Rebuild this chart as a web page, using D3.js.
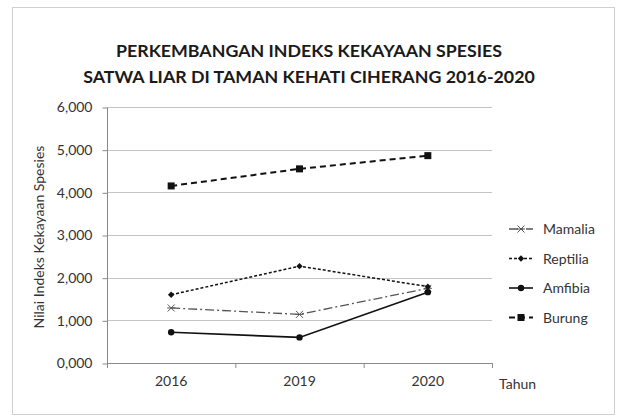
<!DOCTYPE html>
<html>
<head>
<meta charset="utf-8">
<script src="https://cdn.jsdelivr.net/npm/d3@7"></script>
<style>
  body { margin: 0; background: #fff; }
  svg { display: block; font-family: Lato, "Open Sans", sans-serif; }
</style>
</head>
<body>
<script>
// data
var years = ["2016", "2019", "2020"];
var mamalia = [1.29, 1.14, 1.75];
var reptilia = [1.60, 2.27, 1.79];
var amfibia = [0.72, 0.60, 1.66];
var burung = [4.15, 4.55, 4.86];
var yTicks = [0, 1, 2, 3, 4, 5, 6];
var yTickLabels = ["0,000", "1,000", "2,000", "3,000", "4,000", "5,000", "6,000"];
var titleLines = ["PERKEMBANGAN INDEKS KEKAYAAN SPESIES", "SATWA LIAR DI TAMAN KEHATI CIHERANG 2016-2020"];

var series = [
  {name: "Mamalia", values: mamalia, dash: "9,3,2,3", width: 1.3, color: "#555", marker: "star"},
  {name: "Reptilia", values: reptilia, dash: "3,2", width: 1.5, color: "#111", marker: "diamond"},
  {name: "Amfibia", values: amfibia, dash: null, width: 1.6, color: "#111", marker: "circle"},
  {name: "Burung", values: burung, dash: "6,4", width: 2, color: "#111", marker: "square"}
];

var W = 620, H = 417;
var m = {left: 107, right: 492, top: 107, bottom: 363};

var svg = d3.select("body").append("svg").attr("width", W).attr("height", H);

// chart frame
svg.append("rect").attr("x", 12.5).attr("y", 7.5).attr("width", 602).attr("height", 407)
   .attr("fill", "#fff").attr("stroke", "#d0d0d0").attr("stroke-width", 1);

var x = d3.scaleBand().domain(years).range([m.left, m.right]);
var y = d3.scaleLinear().domain([0, 6]).range([m.bottom, m.top]);

// title
svg.append("g").selectAll("text").data(titleLines).enter().append("text")
   .attr("x", 309).attr("y", function(d, i) { return 57 + i * 26; })
   .attr("text-anchor", "middle").attr("font-size", 17.8).attr("font-weight", "bold")
   .attr("fill", "#1a1a1a").text(function(d) { return d; });

// grid
svg.append("g").selectAll("line").data(yTicks.slice(1)).enter().append("line")
   .attr("x1", m.left).attr("x2", m.right)
   .attr("y1", function(d) { return Math.round(y(d)) + 0.5; })
   .attr("y2", function(d) { return Math.round(y(d)) + 0.5; })
   .attr("stroke", "#c4c4c4").attr("stroke-width", 1);

// y axis
var yAxis = svg.append("g").attr("transform", "translate(" + (m.left + 0.5) + ",0.5)")
   .call(d3.axisLeft(y).tickValues(yTicks).tickSize(5).tickPadding(10)
   .tickFormat(function(d, i) { return yTickLabels[i]; }));
yAxis.selectAll("text").attr("font-size", 14).attr("font-family", "Lato, sans-serif").attr("fill", "#333");
yAxis.select(".domain").attr("stroke", "#8a8a8a").attr("d", "M0," + (m.top) + "V" + (m.bottom));
yAxis.selectAll(".tick line").attr("stroke", "#8a8a8a");

// x axis
var xAxis = svg.append("g").attr("transform", "translate(0," + (m.bottom + 0.5) + ")")
   .call(d3.axisBottom(x).tickSize(0).tickPadding(13));
xAxis.select(".domain").attr("stroke", "#8a8a8a").attr("d", "M" + m.left + ",0H" + m.right);
xAxis.selectAll("text").attr("font-size", 14).attr("font-family", "Lato, sans-serif").attr("fill", "#333");
svg.append("g").selectAll("line").data(years.concat(["end"])).enter().append("line")
   .attr("x1", function(d, i) { return m.left + i * x.step() + 0.5; })
   .attr("x2", function(d, i) { return m.left + i * x.step() + 0.5; })
   .attr("y1", m.bottom).attr("y2", m.bottom + 5).attr("stroke", "#8a8a8a");

svg.append("text").attr("x", 499).attr("y", 389).attr("font-size", 14).attr("fill", "#333").text("Tahun");

// y title
svg.append("text").attr("transform", "translate(44," + ((m.top + m.bottom) / 2 + 2) + ") rotate(-90)")
   .attr("text-anchor", "middle").attr("font-size", 14).attr("fill", "#333")
   .text("Nilai Indeks Kekayaan Spesies");

function drawMarker(g, type, color) {
  if (type == "square") {
    g.append("rect").attr("x", -3.5).attr("y", -3.5).attr("width", 7).attr("height", 7).attr("fill", color);
  } else if (type == "circle") {
    g.append("circle").attr("r", 3.2).attr("fill", color);
  } else if (type == "diamond") {
    g.append("path").attr("d", "M0,-3.2L3.2,0L0,3.2L-3.2,0Z").attr("fill", color);
  } else {
    g.append("path").attr("d", "M-3.5,-3.5L3.5,3.5M-3.5,3.5L3.5,-3.5M-4,0H4")
     .attr("stroke", color).attr("stroke-width", 1).attr("fill", "none");
  }
}

var line = d3.line().x(function(d, i) { return x(years[i]) + x.bandwidth() / 2; }).y(function(d) { return y(d); });

series.forEach(function(s) {
  svg.append("path").attr("d", line(s.values)).attr("fill", "none")
     .attr("stroke", s.color).attr("stroke-width", s.width)
     .attr("stroke-dasharray", s.dash);
  s.values.forEach(function(v, i) {
    var g = svg.append("g").attr("transform", "translate(" + (x(years[i]) + x.bandwidth() / 2) + "," + y(v) + ")");
    drawMarker(g, s.marker, s.color);
  });
});

// legend
var legend = svg.append("g").selectAll("g").data(series).enter().append("g")
   .attr("transform", function(d, i) { return "translate(509," + (229 + i * 29.5) + ")"; });
legend.append("line").attr("x1", 0).attr("x2", 24).attr("y1", 0).attr("y2", 0)
   .attr("stroke", function(d) { return d.color; })
   .attr("stroke-width", function(d) { return d.width; })
   .attr("stroke-dasharray", function(d) { return d.dash; });
legend.each(function(d) {
  var g = d3.select(this).append("g").attr("transform", "translate(12,0)");
  drawMarker(g, d.marker, d.color);
});
legend.append("text").attr("x", 34).attr("y", 5).attr("font-size", 14).attr("fill", "#333")
   .text(function(d) { return d.name; });
</script>
</body>
</html>
